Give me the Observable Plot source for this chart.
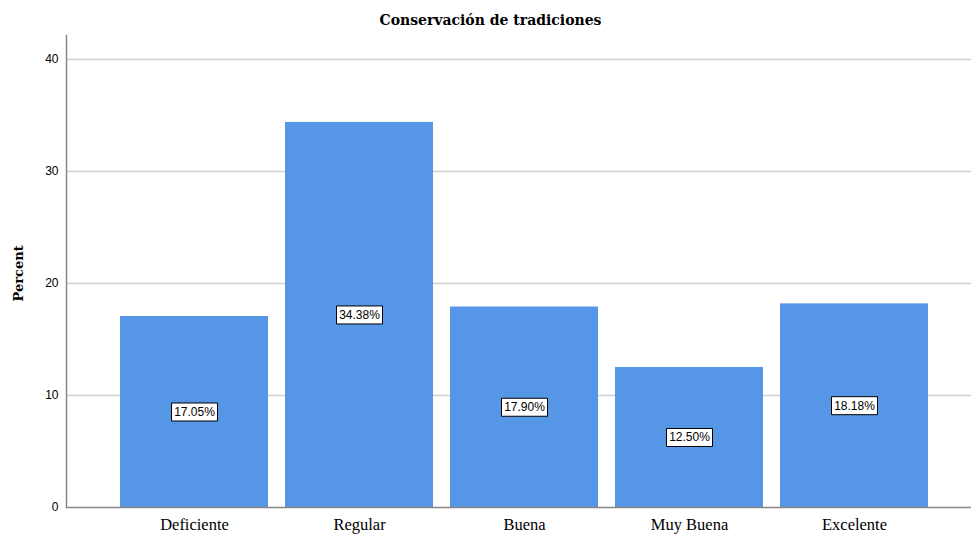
<!DOCTYPE html>
<html>
<head>
<meta charset="utf-8">
<script src="https://cdn.jsdelivr.net/npm/d3@7"></script>
<script src="https://cdn.jsdelivr.net/npm/@observablehq/plot@0.6"></script>
<style>
  body { margin: 0; background: #fff; }
  #title {
    width: 961px; height: 18px; padding: 12px 0 0 10px;
    text-align: center; font: bold 14px "DejaVu Serif", serif;
    line-height: 16px; color: #000;
  }
</style>
</head>
<body>
<div id="title">Conservación de tradiciones</div>
<div id="chart"></div>
<script>
// Rating categories and their share of responses (percent)
const categories = ["Deficiente", "Regular", "Buena", "Muy Buena", "Excelente"];
const percents = [17.05, 34.38, 17.90, 12.50, 18.18];
const yTicks = [0, 10, 20, 30, 40];

const rows = categories.map((category, i) => ({ category, percent: percents[i] }));

// White box drawn behind each value label
const labelBox = { draw(ctx) { ctx.rect(-23, -9, 46, 18); } };

const sans = "'Liberation Sans', Arial, sans-serif";
const serif = "'Liberation Serif', 'Times New Roman', serif";

const chart = Plot.plot({
  width: 971,
  height: 504,
  marginLeft: 66,
  marginRight: 0,
  marginTop: 5,
  marginBottom: 27,
  style: { background: "#fff", color: "#000" },
  x: { domain: categories, range: [111.5, 936.5], paddingInner: 0.103, paddingOuter: 0.0515 },
  y: { domain: [0, 42.14] },
  marks: [
    Plot.ruleY(yTicks.filter(t => t > 0), { stroke: "#d0d0d0", strokeWidth: 1.5 }),
    Plot.barY(rows, { x: "category", y: "percent", fill: "#5596e6" }),
    Plot.ruleY([0], { stroke: "#888", strokeWidth: 1.5 }),
    Plot.frame({ anchor: "left", stroke: "#888", strokeWidth: 1.5 }),
    Plot.dot(rows, {
      x: "category", y: d => d.percent / 2,
      symbol: labelBox, fill: "#fff", stroke: "#000", strokeWidth: 1
    }),
    Plot.text(rows, {
      x: "category", y: d => d.percent / 2,
      text: d => d.percent.toFixed(2) + "%",
      fontFamily: sans, fontSize: 12, fill: "#000"
    }),
    Plot.axisY({ ticks: yTicks, tickSize: 0, tickPadding: 8, label: null, fontFamily: sans, fontSize: 12 }),
    Plot.axisX({ tickSize: 0, tickPadding: 11, label: null, fontFamily: serif, fontSize: 16.5 }),
    Plot.text(["Percent"], {
      frameAnchor: "left", dx: -48, dy: 30, rotate: -90,
      fontFamily: "'DejaVu Serif', serif", fontWeight: "bold", fontSize: 13, fill: "#000"
    })
  ]
});

document.getElementById("chart").appendChild(chart);
</script>
</body>
</html>
